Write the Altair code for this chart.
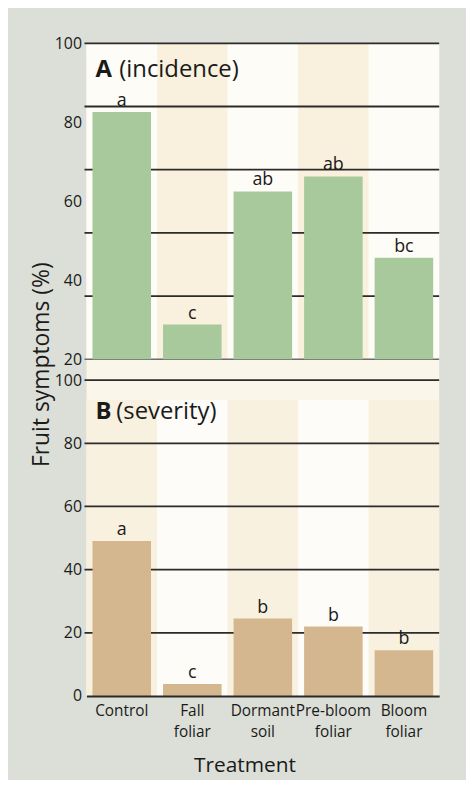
import altair as alt
import pandas as pd

treatments = ["Control", "Fall foliar", "Dormant soil", "Pre-bloom foliar", "Bloom foliar"]
incidence = [82.6, 28.8, 62.5, 66.3, 45.7]
inc_letters = ["a", "c", "ab", "ab", "bc"]
severity = [49.1, 3.8, 24.5, 22.0, 14.5]
sev_letters = ["a", "c", "b", "b", "b"]
grid_a = [100, 84, 68, 52, 36]
ticks_a = [100, 80, 60, 40, 20]
grid_b = [20, 40, 60, 80, 100]
ticks_b = [0, 20, 40, 60, 80, 100]
stripe_a = ["#fefcf7", "#f9f0dd", "#fefcf7", "#f9f0dd", "#fefcf7"]
stripe_b = ["#f9f1df", "#fefcf8", "#f9f1df", "#fefcf8", "#f9f1df"]

FONT = "Open Sans"
TXT = "#1a1a1a"
LINE = "#2b2b2b"
W = 355

df_a = pd.DataFrame({"Treatment": treatments, "value": incidence, "letter": inc_letters, "fill": stripe_a})
df_b = pd.DataFrame({"Treatment": treatments, "value": severity, "letter": sev_letters, "fill": stripe_b})

xscale = alt.Scale(domain=treatments, paddingInner=0, paddingOuter=0)


def panel(df, grid, ticks, domain, base, stripe_top, bar_color, head, sub, sub_x, head_y, height, top):
    ysc = alt.Scale(domain=domain, nice=False, zero=False)
    base_ch = alt.Chart(df)
    if top:
        yaxis = alt.Axis(values=ticks, grid=False, ticks=False, domain=False, labelFont=FONT,
                         labelFontSize=16, labelColor=TXT, labelPadding=5,
                         title="Fruit symptoms (%)", titleFont=FONT, titleFontSize=23,
                         titleFontWeight="normal", titleColor=TXT, titleX=-38, titleY=323,
                         titleAngle=270, titleBaseline="alphabetic", titleAlign="center")
        xaxis = None
    else:
        yaxis = alt.Axis(values=ticks, grid=False, ticks=False, domain=False, labelFont=FONT,
                         labelFontSize=16, labelColor=TXT, labelPadding=5, title=None)
        xaxis = alt.Axis(ticks=False, domain=True, domainColor=LINE, domainWidth=1.8,
                         labelFont=FONT, labelFontSize=15.5, labelColor=TXT, labelAngle=0,
                         labelPadding=8, labelLineHeight=21,
                         labelExpr="split(datum.label, ' ')",
                         title="Treatment", titleFont=FONT, titleFontSize=21,
                         titleFontWeight="normal", titleColor=TXT, titleX=159, titlePadding=14)
    stripes = base_ch.mark_rect().encode(
        x=alt.X("Treatment:N", scale=xscale, axis=xaxis, sort=treatments),
        y=alt.Y(datum=stripe_top, scale=ysc, axis=yaxis),
        y2=alt.datum(base),
        color=alt.Color("fill:N", scale=None),
    )
    gdf = pd.DataFrame({"g": grid})
    rules = alt.Chart(gdf).mark_rule(color=LINE, strokeWidth=1.8).encode(
        y=alt.Y("g:Q", scale=ysc),
        x=alt.value(-2), x2=alt.value(W),
    )
    layers = [stripes, rules]
    if top:
        bottom_rule = alt.Chart(pd.DataFrame({"g": [base]})).mark_rule(color="#6d6d6d", strokeWidth=1.5).encode(
            y=alt.Y("g:Q", scale=ysc), x=alt.value(-2), x2=alt.value(W))
        layers.append(bottom_rule)
    bars = base_ch.mark_bar(color=bar_color, width=alt.RelativeBandSize(0.83)).encode(
        x=alt.X("Treatment:N", scale=xscale, sort=treatments),
        y=alt.Y("value:Q", scale=ysc),
        y2=alt.datum(base),
    )
    letters = base_ch.mark_text(font=FONT, fontSize=18, color=TXT, baseline="alphabetic", dy=-6).encode(
        x=alt.X("Treatment:N", scale=xscale, sort=treatments),
        y=alt.Y("value:Q", scale=ysc),
        text="letter:N",
    )
    hd = alt.Chart(pd.DataFrame({"t": [head]})).mark_text(
        font=FONT, fontSize=24, fontWeight="bold", color=TXT, align="left", baseline="alphabetic"
    ).encode(x=alt.value(9), y=alt.value(head_y), text="t:N")
    sb = alt.Chart(pd.DataFrame({"t": [sub]})).mark_text(
        font=FONT, fontSize=24, color=TXT, align="left", baseline="alphabetic"
    ).encode(x=alt.value(sub_x), y=alt.value(head_y), text="t:N")
    layers += [bars, letters, hd, sb]
    return alt.layer(*layers).properties(width=W, height=height)


pa = panel(df_a, grid_a, ticks_a, [14.72, 100], 20, 100, "#a7c99b", "A", "(incidence)", 33, 34, 339, True)
pb = panel(df_b, grid_b, ticks_b, [0, 100], 0, 93.7, "#d4b78e", "B", "(severity)", 30, 39, 318, False)

chart = alt.vconcat(pa, pb, spacing=0, bounds="flush").properties(
    background="#dcdfd7",
    padding={"left": 23, "top": 25, "right": 26, "bottom": 2},
).configure_view(fill="#fbf6ea", stroke=None)

chart.save("out.html", embed_options={"renderer": "svg", "actions": False})
